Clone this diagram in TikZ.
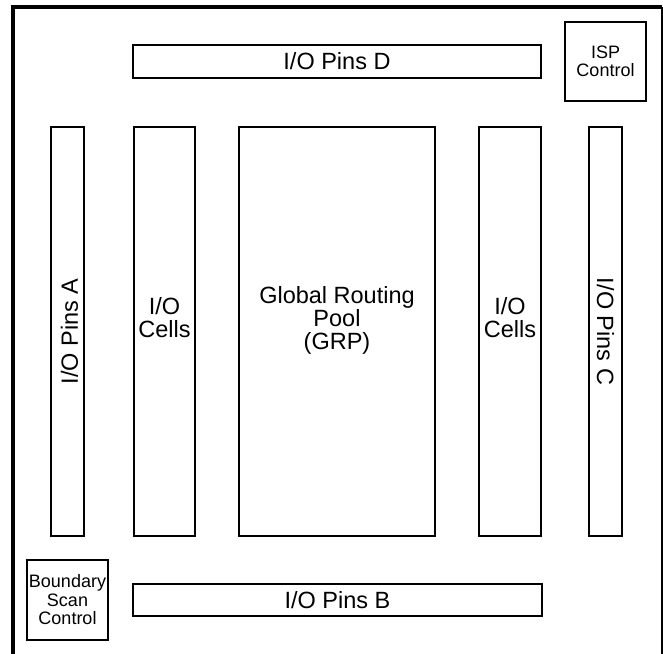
\documentclass[tikz,border=0pt]{standalone}
\usepackage{fontspec}
\setmainfont{Liberation Sans}
\begin{document}
\begin{tikzpicture}[x=1pt,y=-1pt,
  box/.style={draw=black, line width=2pt, fill=white, inner sep=0pt, align=center},
  bigtext/.style={font=\fontsize{23.5}{23}\selectfont},
  smalltext/.style={font=\fontsize{18}{18.5}\selectfont}]
\useasboundingbox (0,0) rectangle (663,653);
% outer frame
\draw[line width=4pt] (13,680) -- (13,7) -- (662,7);
\draw[line width=2.5pt] (662,7) -- (662,680);
% boxes
\node[box, bigtext, minimum width=408pt, minimum height=33pt] (pinsD) at (337,61.5) {I/O Pins D};
\node[box, smalltext, minimum width=81pt, minimum height=79pt] (isp) at (605.5,61.5) {ISP\\Control};
\node[box, minimum width=33pt, minimum height=409pt,
  label={[bigtext, rotate=90, anchor=center, yshift=-2pt]center:I/O Pins A}] (pinsA) at (67.5,331.5) {};
\node[box, minimum width=61pt, minimum height=409pt,
  label={[bigtext, align=center, anchor=center, yshift=14pt]center:I/O\\Cells}] (cellsL) at (164.5,331.5) {};
\node[box, minimum width=196pt, minimum height=409pt,
  label={[bigtext, align=center, anchor=center, yshift=11pt]center:Global Routing\\Pool\\(GRP)}] (grp) at (337,331.5) {};
\node[box, minimum width=62pt, minimum height=409pt,
  label={[bigtext, align=center, anchor=center, yshift=14pt]center:I/O\\Cells}] (cellsR) at (510,331.5) {};
\node[box, minimum width=33pt, minimum height=409pt,
  label={[bigtext, rotate=-90, anchor=center]center:I/O Pins C}] (pinsC) at (605.5,331.5) {};
\node[box, smalltext, minimum width=81pt, minimum height=80pt] (bsc) at (67.5,600) {Boundary\\Scan\\Control};
\node[box, bigtext, minimum width=409pt, minimum height=32pt] (pinsB) at (337.5,600) {I/O Pins B};
\end{tikzpicture}
\end{document}
